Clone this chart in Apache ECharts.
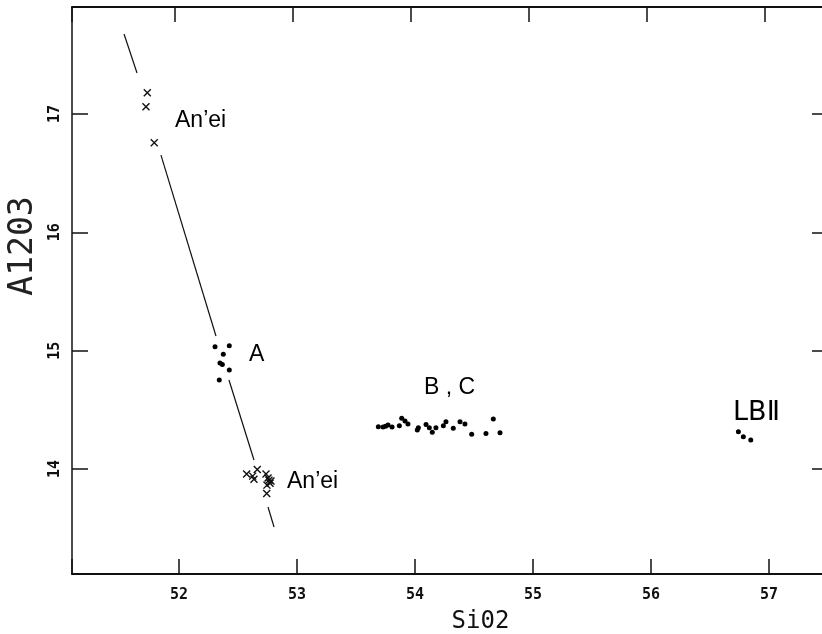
<!DOCTYPE html>
<html>
<head>
<meta charset="utf-8">
<script src="https://cdn.jsdelivr.net/npm/echarts@6/dist/echarts.min.js"></script>
<style>
  html, body { margin: 0; padding: 0; background: #fff; }
  #chart { width: 822px; height: 634px; }
</style>
</head>
<body>
<div id="chart"></div>
<script>
// axis ranges (SiO2 across, Al2O3 up)
const xRange = [51.093, 57.474];
const yRange = [13.113, 17.904];

// An'ei crosses (upper group and lower group)
const aneiCrosses = [
  [51.731, 17.180], [51.720, 17.062], [51.790, 16.757],
  [52.573, 13.957], [52.624, 13.940], [52.663, 13.995], [52.635, 13.913],
  [52.737, 13.957], [52.754, 13.924], [52.779, 13.898], [52.745, 13.864],
  [52.771, 13.880], [52.762, 13.905], [52.743, 13.794]
];

// group A dots
const groupA = [
  [52.305, 15.033], [52.426, 15.042], [52.375, 14.969], [52.367, 14.884],
  [52.347, 14.895], [52.426, 14.836], [52.341, 14.752]
];

// group B, C dots
const groupBC = [
  [53.689, 14.357], [53.729, 14.355], [53.750, 14.362], [53.771, 14.372],
  [53.805, 14.355], [53.867, 14.366], [53.887, 14.428], [53.915, 14.405],
  [53.940, 14.380], [54.019, 14.329], [54.028, 14.349], [54.093, 14.377],
  [54.121, 14.349], [54.146, 14.310], [54.177, 14.349], [54.240, 14.366],
  [54.262, 14.400], [54.324, 14.344], [54.381, 14.400], [54.423, 14.380],
  [54.480, 14.293], [54.601, 14.301], [54.663, 14.422], [54.720, 14.306]
];

// LB II dots
const groupLB = [[56.740, 14.315], [56.782, 14.273], [56.845, 14.245]];

// trend line, drawn in broken pieces
const trendPieces = [
  [[51.534, 17.676], [51.644, 17.346]],
  [[51.847, 16.653], [52.313, 15.124]],
  [[52.423, 14.752], [52.635, 14.076]],
  [[52.754, 13.679], [52.805, 13.510]]
];

// text labels in the plot
const labelTexts = ['An’ei', 'A', 'An’ei', 'B , C', 'LBⅡ'];
const labelPos = [
  [51.966, 16.941], [52.593, 14.966], [52.915, 13.892], [54.076, 14.684], [56.695, 14.477]
];

const tickFont = { fontFamily: 'DejaVu Sans Mono', fontSize: 15, fontWeight: 'bold', color: '#111' };
const intOnly = v => (Math.abs(v - Math.round(v)) < 1e-6 ? String(Math.round(v)) : '');

const chart = echarts.init(document.getElementById('chart'));

const series = [];
trendPieces.forEach(p => {
  series.push({
    type: 'line', data: p, symbol: 'none', silent: true,
    lineStyle: { color: '#111', width: 1.2 }
  });
});
series.push({
  type: 'scatter', data: aneiCrosses,
  symbol: 'path://M0,0L10,10M10,0L0,10', symbolSize: 7,
  itemStyle: { color: '#111', borderColor: '#111', borderWidth: 1.4, opacity: 1 }
});
series.push({
  type: 'scatter', data: groupA.concat(groupBC, groupLB),
  symbol: 'circle', symbolSize: 5,
  itemStyle: { color: '#000', opacity: 1 }
});
series.push({
  type: 'scatter', symbolSize: 0, itemStyle: { opacity: 1 },
  data: labelPos.map((p, i) => ({ value: p, name: labelTexts[i] })),
  label: {
    show: true, position: [0, 0], align: 'left', verticalAlign: 'middle',
    formatter: '{b}', color: '#000', fontSize: 23,
    fontFamily: 'Liberation Sans'
  }
});
// LBII uses a font with the roman numeral glyph
series[series.length - 1].data[4].label = { fontFamily: 'DejaVu Sans', fontSize: 27 };

chart.setOption({
  animation: false,
  backgroundColor: '#fff',
  grid: { left: 72, top: 7, right: -3, bottom: 60, outerBoundsMode: 'none', containLabel: false },
  xAxis: [
    {
      type: 'value', position: 'bottom', min: xRange[0], max: xRange[1],
      minInterval: 1, maxInterval: 1, splitLine: { show: false },
      axisLine: { show: true, lineStyle: { color: '#111', width: 2 } },
      axisTick: { show: true, inside: true, length: 15, lineStyle: { color: '#111', width: 1.5 } },
      axisLabel: Object.assign({ margin: 14, formatter: intOnly }, tickFont),
      name: 'Si02', nameLocation: 'middle', nameGap: 36,
      nameTextStyle: { fontFamily: 'DejaVu Sans Mono', fontSize: 24, color: '#111', padding: [0, 0, 0, 64] }
    },
    {
      type: 'value', position: 'top', min: xRange[0] + 0.038, max: xRange[1] + 0.038,
      minInterval: 1, maxInterval: 1, splitLine: { show: false },
      axisLine: { show: true, lineStyle: { color: '#111', width: 2 } },
      axisTick: { show: true, inside: true, length: 15, lineStyle: { color: '#111', width: 1.5 } },
      axisLabel: { show: false }
    }
  ],
  yAxis: [
    {
      type: 'value', position: 'left', min: yRange[0], max: yRange[1],
      minInterval: 1, maxInterval: 1, splitLine: { show: false },
      axisLine: { show: true, lineStyle: { color: '#111', width: 1.5 } },
      axisTick: { show: true, inside: true, length: 16, lineStyle: { color: '#111', width: 1.5 } },
      axisLabel: Object.assign({ margin: 9, rotate: 90, formatter: intOnly }, tickFont),
      name: 'A1203', nameLocation: 'middle', nameGap: 31,
      nameTextStyle: { fontFamily: 'DejaVu Sans Mono', fontSize: 33, color: '#222', padding: [0, 0, 0, 89] }
    },
    {
      type: 'value', position: 'right', min: yRange[0], max: yRange[1],
      minInterval: 1, maxInterval: 1, splitLine: { show: false },
      axisLine: { show: false },
      axisTick: { show: true, inside: true, length: 13, lineStyle: { color: '#111', width: 1.5 } },
      axisLabel: { show: false }
    }
  ],
  series: series
});
</script>
</body>
</html>
